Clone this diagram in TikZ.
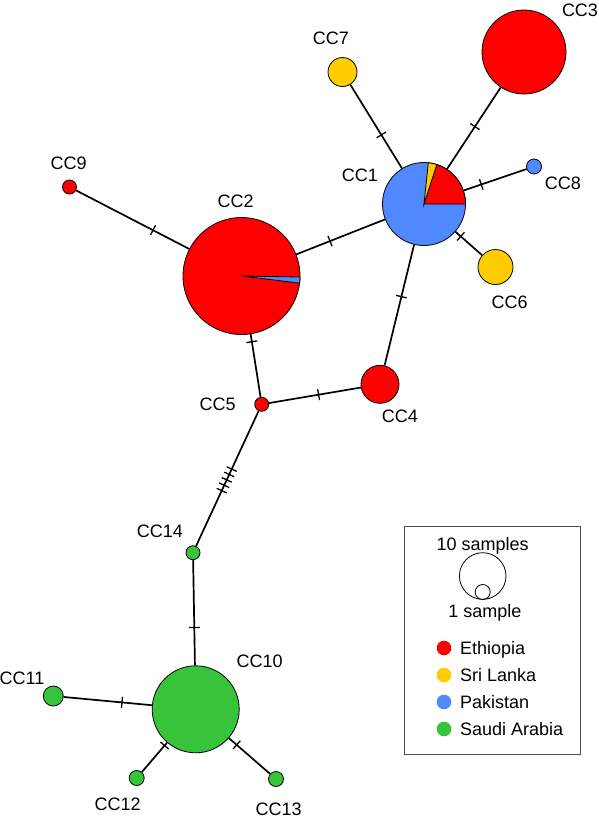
\documentclass[tikz,border=0pt]{standalone}
\usepackage{fontspec}
\setmainfont{Liberation Sans}
\usepackage{xcolor}
\usepackage{tikz}
\usetikzlibrary{positioning}

\definecolor{ethiopia}{HTML}{FF0000}
\definecolor{srilanka}{HTML}{FFCC00}
\definecolor{pakistan}{HTML}{4F88FF}
\definecolor{saudi}{HTML}{37C43A}

\begin{document}
\begin{tikzpicture}[
      x=1pt, y=1pt,
      hap/.style={
          circle,
          draw=black,
          line width=0.8pt,
          inner sep=0pt
      },
      wedge/.style={draw=black, line width=0.8pt},
      branch/.style={line width=1.7pt},
      mutation/.style={draw, sloped, line width=1.3pt,
          minimum width=0pt, minimum height=11pt, inner sep=0pt},
      lbl/.style={font=\fontsize{18}{20}\selectfont, inner sep=0pt,
          text height=12.9pt, text depth=0pt},
      keydot/.style={circle, inner sep=0pt, minimum size=14.6pt}
  ]

  \useasboundingbox (0,0) rectangle (598,-820);

  % ══════════════════════════════
  % HAPLOTYPES
  % ══════════════════════════════
  \node[hap, fill=pakistan, minimum size=83pt]  (cc1)  at (424,-204)     {};
  \node[hap, fill=ethiopia, minimum size=117pt] (cc2)  at (241.5,-276)   {};
  \node[hap, fill=ethiopia, minimum size=84pt]  (cc3)  at (524,-52)      {};
  \node[hap, fill=ethiopia, minimum size=38pt]  (cc4)  at (380,-384.3)   {};
  \node[hap, fill=ethiopia, minimum size=14pt]  (cc5)  at (261.7,-404.3) {};
  \node[hap, fill=srilanka, minimum size=35pt]  (cc6)  at (495.5,-267)   {};
  \node[hap, fill=srilanka, minimum size=29pt]  (cc7)  at (342.5,-72)    {};
  \node[hap, fill=pakistan, minimum size=15pt]  (cc8)  at (534,-166.5)   {};
  \node[hap, fill=ethiopia, minimum size=14pt]  (cc9)  at (69.5,-187)    {};
  \node[hap, fill=saudi,    minimum size=87pt]  (cc10) at (195.7,-709.3) {};
  \node[hap, fill=saudi,    minimum size=20pt]  (cc11) at (53.3,-696)    {};
  \node[hap, fill=saudi,    minimum size=15pt]  (cc12) at (136.7,-778)   {};
  \node[hap, fill=saudi,    minimum size=15pt]  (cc13) at (276,-779)     {};
  \node[hap, fill=saudi,    minimum size=14pt]  (cc14) at (193,-552.7)   {};

  % pie slices
  \filldraw[wedge, fill=ethiopia] (cc1.center) -- ++(0:41.5)
      arc[start angle=0, end angle=72, radius=41.5] -- cycle;
  \filldraw[wedge, fill=srilanka] (cc1.center) -- ++(72:41.5)
      arc[start angle=72, end angle=84, radius=41.5] -- cycle;
  \filldraw[wedge, fill=pakistan] (cc2.center) -- ++(-7:58.5)
      arc[start angle=-7, end angle=-1, radius=58.5] -- cycle;

  % ══════════════════════════════
  % BRANCHES
  % ══════════════════════════════
  \draw[branch] (cc9)  -- node[mutation, pos=0.68]{} (cc2);
  \draw[branch] (cc2)  -- node[mutation, pos=0.38]{} (cc1);
  \draw[branch] (cc7)  -- node[mutation, pos=0.60]{} (cc1);
  \draw[branch] (cc3)  -- node[mutation, pos=0.48]{} (cc1);
  \draw[branch] (cc8)  -- node[mutation, pos=0.72]{} (cc1);
  \draw[branch] (cc6)  -- node[mutation, pos=0.80]{} (cc1);
  \draw[branch] (cc1)  -- node[mutation, pos=0.43]{} (cc4);
  \draw[branch] (cc2)  -- node[mutation, pos=0.12]{} (cc5);
  \draw[branch] (cc5)  -- node[mutation, pos=0.54]{} (cc4);
  \draw[branch] (cc5)  -- node[mutation, pos=0.43]{} node[mutation, pos=0.47]{}
      node[mutation, pos=0.51]{} node[mutation, pos=0.55]{}
      node[mutation, pos=0.59]{} (cc14);
  \draw[branch] (cc14) -- node[mutation, pos=0.64]{} (cc10);
  \draw[branch] (cc11) -- node[mutation, pos=0.66]{} (cc10);
  \draw[branch] (cc12) -- node[mutation, pos=0.90]{} (cc10);
  \draw[branch] (cc13) -- node[mutation, pos=0.81]{} (cc10);

  % ══════════════════════════════
  % LABELS
  % ══════════════════════════════
  \node[lbl] (lcc1)  at (360,-175.5)   {CC1};
  \node[lbl] (lcc2)  at (235.6,-201)   {CC2};
  \node[lbl] (lcc3)  at (580,-10.5)    {CC3};
  \node[lbl] (lcc4)  at (400,-416)     {CC4};
  \node[lbl] (lcc5)  at (217.6,-403.7) {CC5};
  \node[lbl] (lcc6)  at (509.7,-302)   {CC6};
  \node[lbl] (lcc7)  at (331,-37.7)    {CC7};
  \node[lbl] (lcc8)  at (563,-183)     {CC8};
  \node[lbl] (lcc9)  at (68.7,-163)    {CC9};
  \node[lbl] (lcc10) at (259.6,-660.7) {CC10};
  \node[lbl] (lcc11) at (22,-678)      {CC11};
  \node[lbl] (lcc12) at (117.6,-803.7) {CC12};
  \node[lbl] (lcc13) at (278.7,-809)   {CC13};
  \node[lbl] (lcc14) at (160,-531)     {CC14};

  % ══════════════════════════════
  % LEGEND
  % ══════════════════════════════
  \node[draw=black!70, line width=1pt, minimum width=176pt,
        minimum height=228pt, inner sep=0pt] (legend) at (492,-640) {};

  \node[lbl] (tenlbl) at (482.7,-544) {10 samples};
  \node[circle, draw, line width=0.8pt, minimum size=46.6pt, inner sep=0pt]
      (ten) at (482.7,-576) {};
  \node[circle, draw, line width=0.8pt, minimum size=15pt, inner sep=0pt]
      (one) at (482.7,-592) {};
  \node[lbl] (onelbl) at (485,-610.7) {1 sample};

  \node[keydot, fill=ethiopia] (keyeth) at (444,-648) {};
  \node[lbl, right=8.5pt of keyeth] (lbleth) {Ethiopia};

  \node[keydot, fill=srilanka] (keysri) at (444,-675) {};
  \node[lbl, right=8.5pt of keysri] (lblsri) {Sri Lanka};

  \node[keydot, fill=pakistan] (keypak) at (444,-702) {};
  \node[lbl, right=8.5pt of keypak] (lblpak) {Pakistan};

  \node[keydot, fill=saudi] (keysau) at (444,-729) {};
  \node[lbl, right=8.5pt of keysau] (lblsau) {Saudi Arabia};

\end{tikzpicture}
\end{document}
